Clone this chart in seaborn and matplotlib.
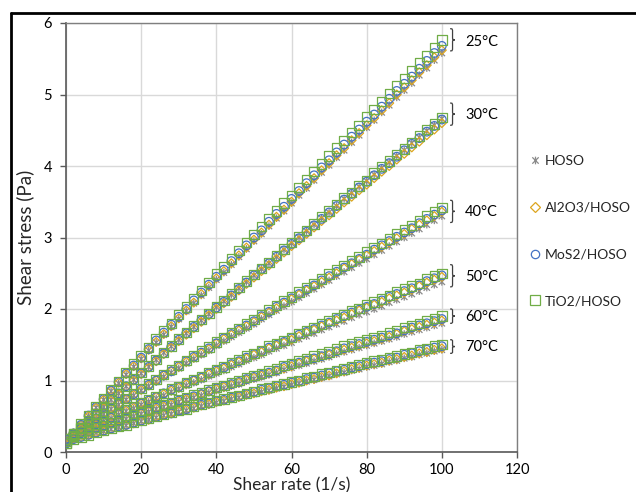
import matplotlib
matplotlib.use("Agg")
import matplotlib.pyplot as plt
import seaborn as sns
import pandas as pd
from matplotlib.path import Path
from matplotlib.patches import PathPatch
from matplotlib.lines import Line2D

# ---------------- data ----------------
shear_rate = [0, 2, 4, 6, 8, 10, 12, 14, 16, 18, 20, 22, 24, 26, 28, 30, 32, 34, 36, 38,
              40, 42, 44, 46, 48, 50, 52, 54, 56, 58, 60, 62, 64, 66, 68, 70, 72, 74, 76, 78,
              80, 82, 84, 86, 88, 90, 92, 94, 96, 98, 100]

temperatures = ["25°C", "30°C", "40°C", "50°C", "60°C", "70°C"]
fluids = ["HOSO", "Al2O3/HOSO", "MoS2/HOSO", "TiO2/HOSO"]

hoso_25 = [.12,.25,.38,.50,.62,.73,.85,.96,1.08,1.19,1.30,1.42,1.53,1.64,1.75,1.86,1.97,2.08,2.19,2.30,2.41,2.51,2.62,2.73,2.84,2.95,3.05,3.16,3.27,3.37,3.48,3.59,3.69,3.80,3.91,4.01,4.12,4.22,4.33,4.43,4.54,4.64,4.75,4.85,4.96,5.06,5.16,5.27,5.37,5.48,5.58]
al2o3_25 = [.12,.25,.38,.50,.62,.73,.86,.97,1.09,1.20,1.31,1.43,1.54,1.65,1.76,1.87,1.98,2.09,2.21,2.32,2.43,2.53,2.64,2.75,2.86,2.97,3.07,3.18,3.29,3.39,3.50,3.62,3.72,3.83,3.94,4.04,4.15,4.25,4.36,4.46,4.57,4.67,4.78,4.88,5.00,5.10,5.20,5.31,5.41,5.52,5.62]
mos2_25 = [.12,.25,.38,.51,.63,.74,.86,.98,1.10,1.21,1.32,1.44,1.56,1.67,1.78,1.89,2.00,2.12,2.23,2.34,2.45,2.55,2.67,2.78,2.89,3.00,3.10,3.22,3.33,3.43,3.54,3.65,3.76,3.87,3.98,4.08,4.19,4.30,4.41,4.51,4.62,4.72,4.83,4.94,5.05,5.15,5.25,5.36,5.47,5.58,5.68]
tio2_25 = [.12,.25,.39,.51,.64,.75,.87,.99,1.11,1.23,1.34,1.46,1.58,1.69,1.80,1.92,2.03,2.14,2.26,2.37,2.49,2.59,2.70,2.82,2.93,3.04,3.15,3.26,3.37,3.48,3.59,3.70,3.81,3.92,4.03,4.14,4.25,4.36,4.47,4.57,4.69,4.79,4.90,5.01,5.12,5.22,5.33,5.44,5.54,5.66,5.76]

hoso_30 = [.12,.23,.33,.43,.54,.63,.73,.82,.92,1.01,1.10,1.19,1.29,1.39,1.48,1.57,1.66,1.75,1.84,1.93,2.03,2.11,2.20,2.29,2.38,2.47,2.56,2.64,2.73,2.83,2.92,3.00,3.09,3.18,3.27,3.35,3.44,3.54,3.62,3.71,3.79,3.88,3.97,4.05,4.14,4.22,4.32,4.40,4.49,4.57,4.66]
al2o3_30 = [.12,.23,.33,.43,.53,.62,.72,.81,.91,1.00,1.09,1.18,1.27,1.37,1.46,1.55,1.64,1.73,1.82,1.91,2.00,2.08,2.17,2.26,2.35,2.44,2.53,2.61,2.70,2.79,2.88,2.96,3.05,3.14,3.23,3.31,3.40,3.49,3.57,3.66,3.74,3.83,3.92,4.00,4.09,4.17,4.26,4.34,4.43,4.51,4.60]
mos2_30 = [.12,.23,.33,.43,.53,.63,.73,.82,.92,1.01,1.10,1.19,1.28,1.38,1.47,1.57,1.66,1.75,1.84,1.93,2.02,2.10,2.19,2.28,2.37,2.47,2.56,2.64,2.73,2.82,2.91,2.99,3.08,3.17,3.26,3.35,3.44,3.53,3.61,3.70,3.78,3.87,3.96,4.04,4.13,4.22,4.31,4.39,4.48,4.56,4.65]
tio2_30 = [.12,.23,.33,.44,.54,.63,.73,.82,.92,1.02,1.11,1.20,1.29,1.39,1.48,1.58,1.67,1.76,1.85,1.94,2.03,2.12,2.21,2.30,2.39,2.48,2.57,2.65,2.75,2.84,2.93,3.01,3.10,3.19,3.29,3.37,3.46,3.55,3.63,3.72,3.80,3.90,3.99,4.07,4.16,4.24,4.33,4.42,4.51,4.59,4.68]

hoso_40 = [.18,.26,.33,.40,.46,.53,.60,.66,.73,.79,.86,.92,.98,1.05,1.11,1.17,1.24,1.30,1.36,1.42,1.49,1.55,1.61,1.67,1.73,1.79,1.86,1.92,1.98,2.04,2.10,2.16,2.22,2.28,2.34,2.40,2.46,2.52,2.58,2.64,2.70,2.76,2.82,2.88,2.94,3.00,3.06,3.12,3.18,3.24,3.30]
al2o3_40 = [.18,.26,.33,.40,.47,.54,.61,.67,.74,.80,.87,.93,1.00,1.07,1.13,1.19,1.26,1.32,1.38,1.44,1.52,1.58,1.64,1.70,1.76,1.82,1.89,1.95,2.01,2.08,2.14,2.20,2.26,2.32,2.38,2.44,2.50,2.57,2.63,2.69,2.75,2.81,2.87,2.93,2.99,3.05,3.12,3.18,3.24,3.30,3.36]
mos2_40 = [.18,.26,.33,.41,.47,.54,.61,.67,.74,.81,.88,.94,1.00,1.07,1.13,1.20,1.27,1.33,1.39,1.45,1.52,1.59,1.65,1.71,1.77,1.83,1.90,1.96,2.03,2.09,2.15,2.21,2.27,2.33,2.40,2.46,2.52,2.58,2.64,2.70,2.76,2.83,2.89,2.95,3.01,3.07,3.13,3.20,3.26,3.32,3.38]
tio2_40 = [.18,.26,.34,.41,.47,.54,.62,.68,.75,.81,.89,.95,1.01,1.08,1.15,1.21,1.28,1.34,1.41,1.47,1.54,1.60,1.67,1.73,1.79,1.85,1.92,1.99,2.05,2.11,2.17,2.24,2.30,2.36,2.42,2.49,2.55,2.61,2.67,2.73,2.80,2.86,2.92,2.98,3.05,3.11,3.17,3.23,3.30,3.36,3.42]

hoso_50 = [.18,.23,.28,.33,.38,.43,.47,.52,.57,.61,.66,.70,.75,.79,.84,.88,.93,.97,1.01,1.06,1.10,1.14,1.19,1.23,1.28,1.32,1.36,1.41,1.45,1.49,1.53,1.58,1.62,1.66,1.71,1.75,1.79,1.83,1.88,1.92,1.96,2.00,2.04,2.09,2.13,2.17,2.21,2.25,2.30,2.34,2.38]
al2o3_50 = [.18,.23,.28,.33,.39,.44,.48,.53,.58,.62,.68,.72,.77,.81,.86,.90,.95,1.00,1.04,1.09,1.13,1.17,1.22,1.26,1.31,1.36,1.40,1.45,1.49,1.53,1.57,1.62,1.67,1.71,1.76,1.80,1.84,1.88,1.93,1.98,2.02,2.06,2.10,2.15,2.19,2.23,2.27,2.32,2.37,2.41,2.45]
mos2_50 = [.18,.23,.28,.34,.39,.44,.48,.53,.59,.63,.68,.72,.77,.82,.87,.91,.96,1.00,1.04,1.10,1.14,1.18,1.23,1.27,1.32,1.37,1.41,1.46,1.50,1.54,1.59,1.64,1.68,1.72,1.77,1.81,1.86,1.90,1.95,1.99,2.03,2.07,2.12,2.17,2.21,2.25,2.29,2.33,2.39,2.43,2.47]
tio2_50 = [.18,.23,.29,.34,.39,.44,.49,.54,.59,.63,.69,.73,.78,.82,.88,.92,.97,1.01,1.06,1.11,1.15,1.19,1.25,1.29,1.34,1.38,1.42,1.48,1.52,1.56,1.60,1.66,1.70,1.74,1.79,1.84,1.88,1.92,1.97,2.01,2.06,2.10,2.14,2.19,2.24,2.28,2.32,2.36,2.42,2.46,2.50]

hoso_60 = [.18,.22,.26,.29,.33,.36,.40,.43,.46,.50,.53,.56,.60,.63,.66,.70,.73,.76,.79,.83,.86,.89,.92,.95,.99,1.02,1.05,1.08,1.11,1.15,1.18,1.21,1.24,1.27,1.30,1.33,1.37,1.40,1.43,1.46,1.49,1.52,1.55,1.58,1.61,1.65,1.68,1.71,1.74,1.77,1.80]
al2o3_60 = [.18,.22,.26,.29,.33,.36,.41,.44,.47,.51,.54,.57,.61,.64,.67,.71,.74,.77,.81,.85,.88,.91,.94,.97,1.01,1.04,1.07,1.10,1.13,1.17,1.20,1.24,1.27,1.30,1.33,1.36,1.40,1.43,1.46,1.49,1.52,1.55,1.58,1.61,1.65,1.69,1.72,1.75,1.78,1.81,1.84]
mos2_60 = [.18,.22,.26,.29,.34,.37,.41,.44,.47,.51,.54,.57,.62,.65,.68,.72,.75,.78,.81,.85,.89,.92,.95,.98,1.02,1.05,1.08,1.11,1.14,1.19,1.22,1.25,1.28,1.31,1.34,1.37,1.41,1.45,1.48,1.51,1.54,1.57,1.60,1.63,1.66,1.70,1.74,1.77,1.80,1.83,1.86]
tio2_60 = [.18,.22,.26,.30,.34,.37,.41,.45,.48,.52,.55,.58,.63,.66,.69,.73,.76,.80,.83,.87,.90,.93,.97,1.00,1.04,1.07,1.10,1.14,1.17,1.21,1.24,1.27,1.31,1.34,1.37,1.40,1.44,1.48,1.51,1.54,1.57,1.60,1.63,1.67,1.70,1.74,1.77,1.80,1.84,1.87,1.90]

hoso_70 = [.15,.18,.21,.24,.27,.29,.32,.35,.37,.40,.43,.45,.48,.51,.53,.56,.58,.61,.64,.66,.69,.71,.74,.76,.79,.81,.84,.86,.89,.91,.94,.96,.99,1.01,1.04,1.06,1.09,1.11,1.14,1.16,1.19,1.21,1.23,1.26,1.28,1.31,1.33,1.36,1.38,1.41,1.43]
al2o3_70 = [.15,.18,.21,.24,.27,.29,.32,.35,.37,.40,.43,.45,.49,.52,.54,.57,.59,.62,.65,.67,.70,.72,.75,.77,.80,.82,.85,.87,.90,.92,.95,.97,1.00,1.02,1.05,1.07,1.10,1.13,1.16,1.18,1.21,1.23,1.25,1.28,1.30,1.33,1.35,1.38,1.40,1.43,1.45]
mos2_70 = [.15,.18,.21,.24,.27,.30,.33,.36,.38,.41,.44,.46,.49,.52,.54,.58,.60,.63,.66,.68,.71,.73,.76,.78,.81,.84,.87,.89,.92,.94,.97,.99,1.02,1.04,1.07,1.10,1.13,1.15,1.18,1.20,1.23,1.25,1.27,1.30,1.32,1.36,1.38,1.41,1.43,1.46,1.48]
tio2_70 = [.15,.18,.21,.24,.28,.30,.33,.36,.38,.41,.45,.47,.50,.53,.55,.58,.60,.64,.67,.69,.72,.74,.77,.79,.82,.85,.88,.90,.93,.95,.98,1.00,1.04,1.06,1.09,1.11,1.14,1.16,1.19,1.22,1.25,1.27,1.29,1.32,1.34,1.37,1.39,1.43,1.45,1.48,1.50]

temp_label_y = [5.73, 4.71, 3.36, 2.45, 1.89, 1.47]
x_ticks = [0, 20, 40, 60, 80, 100, 120]
y_ticks = [0, 1, 2, 3, 4, 5, 6]

series = {
    "HOSO": [hoso_25, hoso_30, hoso_40, hoso_50, hoso_60, hoso_70],
    "Al2O3/HOSO": [al2o3_25, al2o3_30, al2o3_40, al2o3_50, al2o3_60, al2o3_70],
    "MoS2/HOSO": [mos2_25, mos2_30, mos2_40, mos2_50, mos2_60, mos2_70],
    "TiO2/HOSO": [tio2_25, tio2_30, tio2_40, tio2_50, tio2_60, tio2_70],
}

rows = []
for fl in fluids:
    for t, vals in zip(temperatures, series[fl]):
        for xr, v in zip(shear_rate, vals):
            rows.append({"fluid": fl, "temp": t, "rate": xr, "stress": v})
df = pd.DataFrame(rows)

# ---------------- style ----------------
sns.set_theme(style="white")
plt.rcParams["font.family"] = ["Lato", "DejaVu Sans"]

# Excel-like "star" marker: an x with a vertical bar
star = Path([(-1, -1), (1, 1), (-1, 1), (1, -1), (0, -1.2), (0, 1.2)],
            [Path.MOVETO, Path.LINETO, Path.MOVETO, Path.LINETO, Path.MOVETO, Path.LINETO])

colors = {"HOSO": "#8a8a8a", "Al2O3/HOSO": "#DDA51E",
          "MoS2/HOSO": "#4472C4", "TiO2/HOSO": "#70AD47"}
markers = {"HOSO": star, "Al2O3/HOSO": "D", "MoS2/HOSO": "o", "TiO2/HOSO": "s"}
sizes = {"HOSO": 30, "Al2O3/HOSO": 20, "MoS2/HOSO": 38, "TiO2/HOSO": 46}

W, H = 636, 492
fig = plt.figure(figsize=(W / 100, H / 100), dpi=100)
ax = fig.add_axes([66 / W, 40 / H, 451 / W, 429 / H])

for i, fl in enumerate(fluids):
    sub = df[df["fluid"] == fl]
    sns.scatterplot(data=sub, x="rate", y="stress", ax=ax, marker=markers[fl],
                    s=sizes[fl], color=colors[fl], legend=False, zorder=3 + i)
    coll = ax.collections[-1]
    coll.set_facecolor("none")
    coll.set_edgecolor(colors[fl])
    coll.set_linewidth(0.9)

ax.set_xlim(0, 120)
ax.set_ylim(0, 6)
ax.set_xticks(x_ticks)
ax.set_yticks(y_ticks)
ax.grid(True, color="#d9d9d9", linewidth=1.0, zorder=0)
ax.set_axisbelow(True)
for side in ["left", "bottom"]:
    ax.spines[side].set_color("#595959")
    ax.spines[side].set_linewidth(1.2)
for side in ["top", "right"]:
    ax.spines[side].set_color("#7f7f7f")
    ax.spines[side].set_linewidth(1.0)
ax.tick_params(axis="both", which="major", direction="out", length=4,
               width=1, color="#595959", labelsize=10.5, labelcolor="black",
               left=True, bottom=True)
ax.tick_params(axis="x", pad=4)
ax.tick_params(axis="y", pad=6)
ax.set_xlabel("Shear rate (1/s)", fontsize=12.5, labelpad=0)
ax.set_ylabel("Shear stress (Pa)", fontsize=13.5, labelpad=7)


def brace(ax, x, y0, y1, w):
    ym = (y0 + y1) / 2
    r = (y1 - y0) * 0.18
    xm = x + w / 2
    verts = [(x, y1), (xm, y1), (xm, y1), (xm, y1 - r), (xm, ym + r),
             (xm, ym), (xm, ym), (x + w, ym),
             (xm, ym), (xm, ym), (xm, ym - r), (xm, y0 + r),
             (xm, y0), (xm, y0), (x, y0)]
    codes = [Path.MOVETO, Path.CURVE4, Path.CURVE4, Path.CURVE4, Path.LINETO,
             Path.CURVE4, Path.CURVE4, Path.CURVE4,
             Path.CURVE4, Path.CURVE4, Path.CURVE4, Path.LINETO,
             Path.CURVE4, Path.CURVE4, Path.CURVE4]
    p = PathPatch(Path(verts, codes), fill=False, edgecolor="#404040",
                  linewidth=0.9, clip_on=False, zorder=10)
    ax.add_patch(p)


brace_spans = [(5.61, 5.92), (4.57, 4.88), (3.21, 3.52), (2.31, 2.62), (1.80, 2.00), (1.38, 1.57)]
for t, ly, (b0, b1) in zip(temperatures, temp_label_y, brace_spans):
    brace(ax, 102.2, b0, b1, 1.3)
    ax.text(106.2, ly, t, fontsize=10.5, ha="left", va="center", color="black",
            clip_on=False)

handles = [Line2D([], [], linestyle="none", marker=markers[fl],
                  markersize={"HOSO": 5.5, "Al2O3/HOSO": 5, "MoS2/HOSO": 6, "TiO2/HOSO": 6.5}[fl],
                  markerfacecolor="none", markeredgecolor=colors[fl], markeredgewidth=0.9)
           for fl in fluids]
fig.legend(handles, fluids, loc="upper left", bbox_to_anchor=(529 / W, 1 - 155 / H),
           frameon=False, fontsize=10, handlelength=0.8, handletextpad=0.35,
           labelspacing=2.5, borderpad=0, borderaxespad=0)

# outer frame (left and top edges visible)
fig.add_artist(Line2D([11 / W, 11 / W], [0, 1 - 13 / H], color="black", lw=2,
                      transform=fig.transFigure))
fig.add_artist(Line2D([11 / W, 1], [1 - 13 / H, 1 - 13 / H], color="black", lw=2,
                      transform=fig.transFigure))

fig.savefig("out.png", dpi=100)
